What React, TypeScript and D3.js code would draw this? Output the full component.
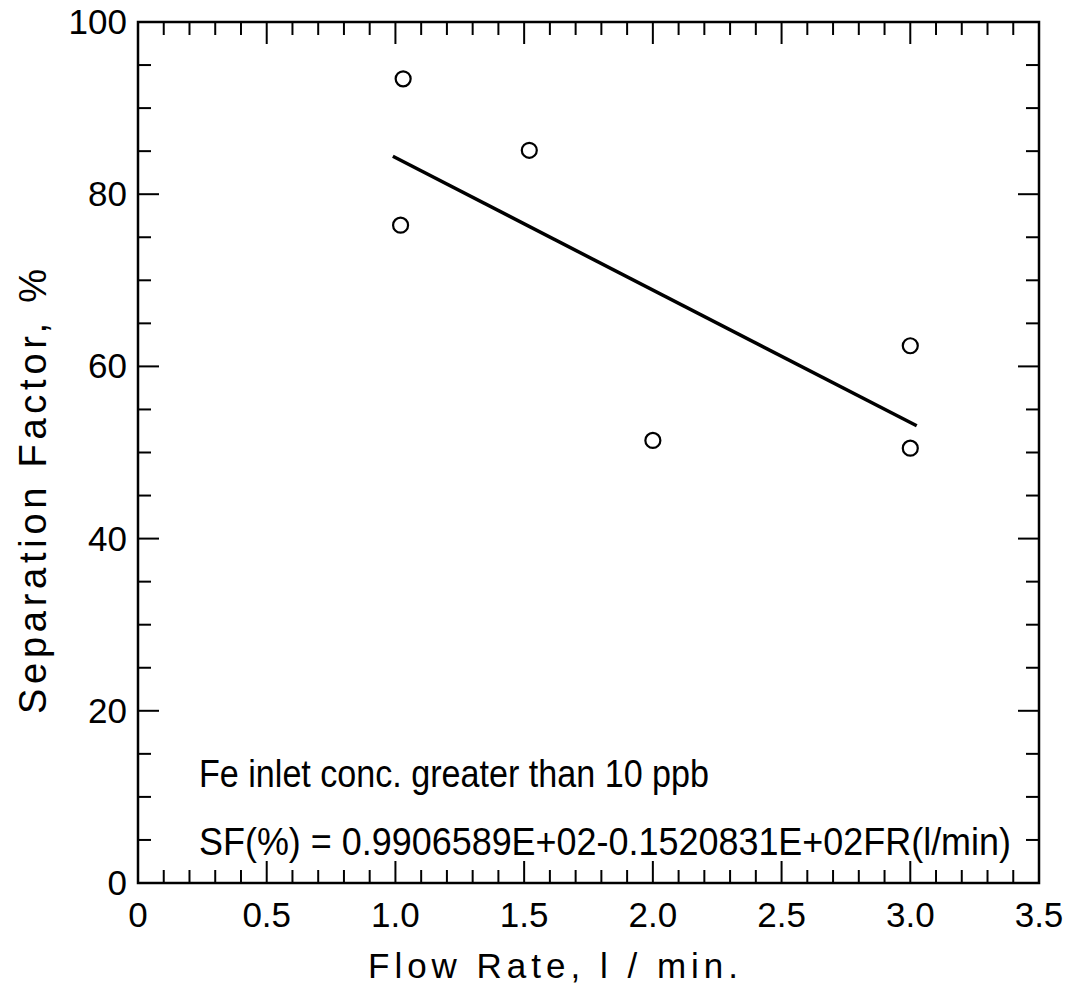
import React from "react";
import * as d3 from "d3";

const flowRate = [1.03, 1.02, 1.52, 2.0, 3.0, 3.0];
const sepFactor = [93.4, 76.4, 85.1, 51.4, 62.4, 50.5];
const fitX = [0.99, 3.025];
const fitY = [84.4, 53.1];
const xTickValues = [0, 0.5, 1.0, 1.5, 2.0, 2.5, 3.0, 3.5];
const xTickLabels = ["0", "0.5", "1.0", "1.5", "2.0", "2.5", "3.0", "3.5"];
const yTickValues = [0, 20, 40, 60, 80, 100];
const yTickLabels = ["0", "20", "40", "60", "80", "100"];
const xTitle = "Flow Rate,  l / min.";
const yTitle = "Separation Factor, %";
const note1 = "Fe inlet conc. greater than 10 ppb";
const note2 = "SF(%) = 0.9906589E+02-0.1520831E+02FR(l/min)";

const W = 1075, H = 1004;
const L = 138, R = 1039, T = 22, B = 883;
const FONT = "'Liberation Sans', Arial, sans-serif";

export default function App() {
  const x = d3.scaleLinear().domain([0, 3.5]).range([L, R]);
  const y = d3.scaleLinear().domain([0, 100]).range([B, T]);
  const xMinor = d3.range(0, 36).map((i) => i / 10);
  const yMinor = d3.range(0, 21).map((i) => i * 5);
  const line = d3.line<number>().x((_, i) => x(fitX[i])).y((_, i) => y(fitY[i]));
  const isMajX = (v: number) => Math.abs(v * 2 - Math.round(v * 2)) < 1e-6;
  const isMajY = (v: number) => v % 20 === 0;

  return (
    <svg width={W} height={H} style={{ position: "absolute", left: 0, top: 0, background: "#fff" }}>
      <rect x={0} y={0} width={W} height={H} fill="#fff" />
      {xMinor.map((v, i) => {
        const len = isMajX(v) ? 22 : 13;
        return (
          <g key={"xt" + i} stroke="#000" strokeWidth={2}>
            <line x1={x(v)} x2={x(v)} y1={B} y2={B - len} />
            <line x1={x(v)} x2={x(v)} y1={T} y2={T + len} />
          </g>
        );
      })}
      {yMinor.map((v, i) => {
        const len = isMajY(v) ? 21 : 13;
        return (
          <g key={"yt" + i} stroke="#000" strokeWidth={2}>
            <line x1={L} x2={L + len} y1={y(v)} y2={y(v)} />
            <line x1={R} x2={R - len} y1={y(v)} y2={y(v)} />
          </g>
        );
      })}
      <rect x={L} y={T} width={R - L} height={B - T} fill="none" stroke="#000" strokeWidth={2.5} />
      {xTickValues.map((v, i) => (
        <text key={"xl" + i} x={x(v)} y={927} textAnchor="middle" fontFamily={FONT} fontSize={35}>
          {xTickLabels[i]}
        </text>
      ))}
      {yTickValues.map((v, i) => (
        <text key={"yl" + i} x={127} y={y(v) + 12} textAnchor="end" fontFamily={FONT} fontSize={35}>
          {yTickLabels[i]}
        </text>
      ))}
      <text x={368} y={978} fontFamily={FONT} fontSize={35} textLength={370} lengthAdjust="spacing">
        {xTitle}
      </text>
      <text
        transform={`translate(46,714) rotate(-90)`}
        fontFamily={FONT}
        fontSize={38}
        textLength={445}
        lengthAdjust="spacing"
      >
        {yTitle}
      </text>
      <text x={199} y={787} fontFamily={FONT} fontSize={38} textLength={510} lengthAdjust="spacingAndGlyphs">
        {note1}
      </text>
      <text x={199} y={855} fontFamily={FONT} fontSize={38} textLength={812} lengthAdjust="spacingAndGlyphs">
        {note2}
      </text>
      <path d={line(fitX) || ""} fill="none" stroke="#000" strokeWidth={3.5} />
      {flowRate.map((fx, i) => (
        <circle key={"p" + i} cx={x(fx)} cy={y(sepFactor[i])} r={7.5} fill="none" stroke="#000" strokeWidth={2.2} />
      ))}
    </svg>
  );
}
